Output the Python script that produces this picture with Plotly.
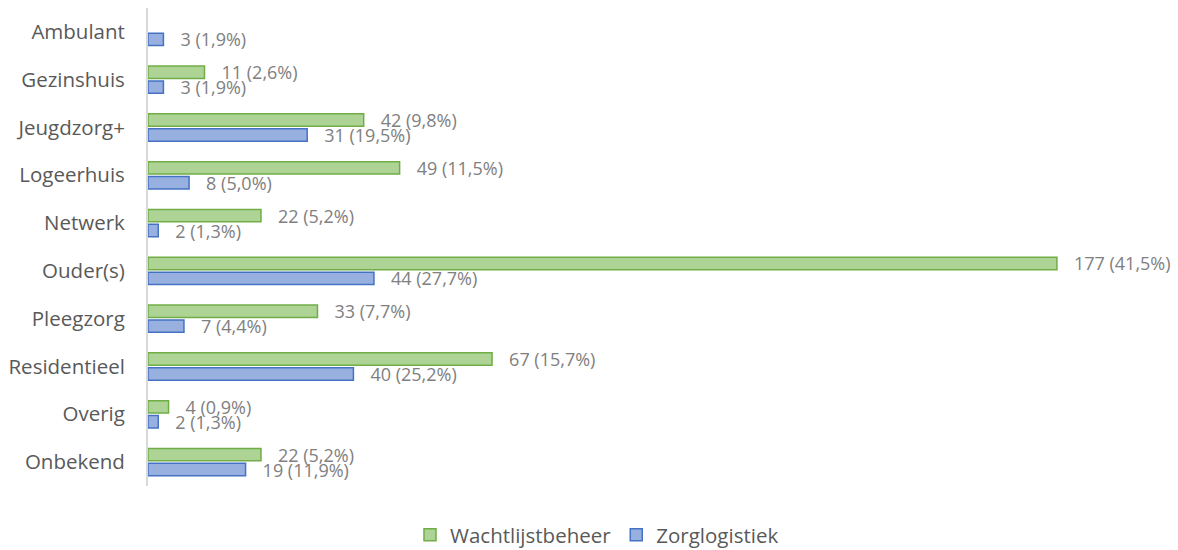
import plotly.graph_objects as go

categories = ["Ambulant", "Gezinshuis", "Jeugdzorg+", "Logeerhuis", "Netwerk",
              "Ouder(s)", "Pleegzorg", "Residentieel", "Overig", "Onbekend"]
wachtlijst_values = [None, 11, 42, 49, 22, 177, 33, 67, 4, 22]
wachtlijst_pct = [None, "2,6", "9,8", "11,5", "5,2", "41,5", "7,7", "15,7", "0,9", "5,2"]
zorg_values = [3, 3, 31, 8, 2, 44, 7, 40, 2, 19]
zorg_pct = ["1,9", "1,9", "19,5", "5,0", "1,3", "27,7", "4,4", "25,2", "1,3", "11,9"]


def labels(vals, pcts):
    return ["" if v is None else f"   {v} ({p}%)" for v, p in zip(vals, pcts)]


FONT = "Open Sans, sans-serif"
LABEL_COLOR = "#808080"

fig = go.Figure()
fig.add_trace(go.Bar(
    name="Wachtlijstbeheer", y=categories, x=wachtlijst_values, orientation="h",
    marker=dict(color="#ADD495", line=dict(color="#70AD47", width=1.5)),
    text=labels(wachtlijst_values, wachtlijst_pct), textposition="outside",
    constraintext="none",
    textfont=dict(size=18, color=LABEL_COLOR, family=FONT), cliponaxis=False,
))
fig.add_trace(go.Bar(
    name="Zorglogistiek", y=categories, x=zorg_values, orientation="h",
    marker=dict(color="#98B0E0", line=dict(color="#4472C4", width=1.5)),
    text=labels(zorg_values, zorg_pct), textposition="outside",
    constraintext="none",
    textfont=dict(size=18, color=LABEL_COLOR, family=FONT), cliponaxis=False,
))

fig.update_layout(
    width=1178, height=550,
    margin=dict(l=140, r=88, t=0, b=72, autoexpand=False),
    paper_bgcolor="white", plot_bgcolor="white",
    barmode="group", bargap=0.375, bargroupgap=0.17,
    font=dict(family=FONT, color="#595959", size=19),
    uniformtext=dict(mode=False),
    xaxis=dict(range=[0, 185], visible=False, showgrid=False, zeroline=False),
    yaxis=dict(autorange="reversed", showline=True, linecolor="#D9D9D9", linewidth=2,
               ticks="", showgrid=False, automargin=False, ticklabelstandoff=17,
               tickfont=dict(size=20.5, color="#595959", family=FONT)),
    legend=dict(orientation="h", xref="container", yref="container",
                x=0.5, xanchor="center", y=0.042, yanchor="middle",
                font=dict(size=20.5, color="#595959", family=FONT),
                itemwidth=30, traceorder="normal"),
    showlegend=True,
)

fig.write_html("out.html")
